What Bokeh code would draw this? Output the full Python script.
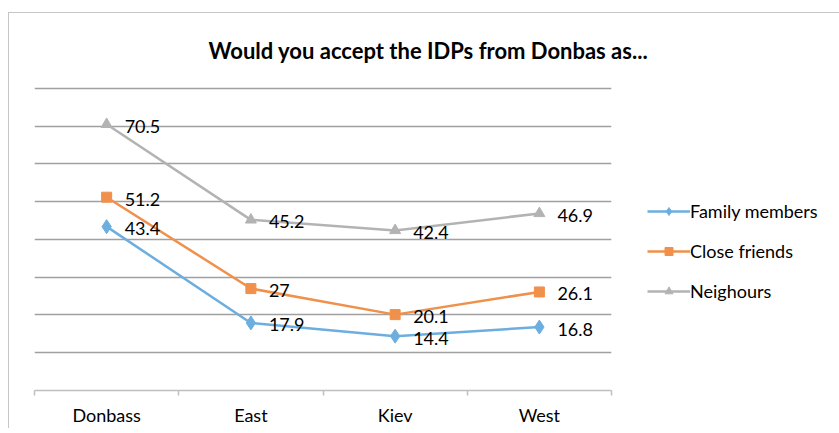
from bokeh.plotting import figure
from bokeh.models import (ColumnDataSource, Range1d, FixedTicker, LabelSet, Legend, LegendItem)
from bokeh.core.properties import value
from bokeh.embed import file_html
from bokeh.resources import INLINE

categories = ["Donbass", "East", "Kiev", "West"]
family = [43.4, 17.9, 14.4, 16.8]
friends = [51.2, 27, 20.1, 26.1]
neighbours = [70.5, 45.2, 42.4, 46.9]
series_names = ["Family members", "Close friends", "Neighours"]
y_ticks = [10, 20, 30, 40, 50, 60, 70, 80]

FONT = "Lato"
colors = ["#6CAEDF", "#F0904A", "#B3B3B3"]
markers = ["diamond", "square", "triangle"]
msizes = [14, 10, 11]

xs = [i + 0.5 for i in range(len(categories))]

p = figure(frame_width=577, frame_height=306, output_backend="svg", toolbar_location=None,
           x_range=Range1d(0, len(categories)), y_range=Range1d(0, 81.05),
           min_border_left=25, min_border_right=0, min_border_top=71, min_border_bottom=0)
p.styles = {"margin-left": "8px", "margin-top": "12px",
            "border-left": "1px solid #c6c6c6", "border-top": "1px solid #c6c6c6"}
p.outline_line_color = None
p.background_fill_color = "white"

p.title.text = "Would you accept the IDPs from Donbas as..."
p.title.text_font = FONT
p.title.text_font_size = "22px"
p.title.text_font_style = "bold"
p.title.text_color = "#000000"
p.title.align = "left"
p.title.offset = 174
p.title.standoff = 42

p.yaxis.visible = False
p.ygrid.ticker = FixedTicker(ticks=y_ticks)
p.ygrid.grid_line_color = "#A0A0A0"
p.ygrid.grid_line_width = 1.5
p.xgrid.visible = False

ax = p.xaxis[0]
ax.ticker = FixedTicker(ticks=xs, minor_ticks=list(range(len(categories) + 1)))
ax.major_label_overrides = {x: c for x, c in zip(xs, categories)}
ax.major_tick_line_color = None
ax.major_tick_out = 0
ax.major_tick_in = 0
ax.minor_tick_out = 5
ax.minor_tick_in = 0
ax.minor_tick_line_color = "#BFBFBF"
ax.minor_tick_line_width = 1.5
ax.axis_line_color = "#BFBFBF"
ax.axis_line_width = 1.5
ax.major_label_text_font = FONT
ax.major_label_text_font_size = "18px"
ax.major_label_text_color = "#000000"
ax.major_label_standoff = 8

items = []
for name, vals, col, mk, ms in zip(series_names, [family, friends, neighbours], colors, markers, msizes):
    src = ColumnDataSource(dict(x=xs, y=vals, lab=[("%g" % v) for v in vals]))
    r1 = p.line("x", "y", source=src, line_color=col, line_width=2.5)
    r2 = p.scatter("x", "y", source=src, marker=mk, size=ms, fill_color=col, line_color=col)
    lbl = LabelSet(x="x", y="y", text="lab", source=src, x_offset=18, y_offset=-2,
                   text_baseline="middle", text_font=value(FONT), text_font_size="18px",
                   text_color="#000000")
    p.add_layout(lbl)
    items.append(LegendItem(label=name, renderers=[r1, r2]))

leg = Legend(items=items, location=(36, 88), padding=0, margin=0, spacing=18,
             glyph_width=43, glyph_height=20, label_height=20, label_standoff=0,
             label_text_font=FONT, label_text_font_size="18px", label_text_color="#000000",
             border_line_color=None, background_fill_alpha=0)
p.add_layout(leg, "right")

open("out.html", "w").write(file_html(p, INLINE))
